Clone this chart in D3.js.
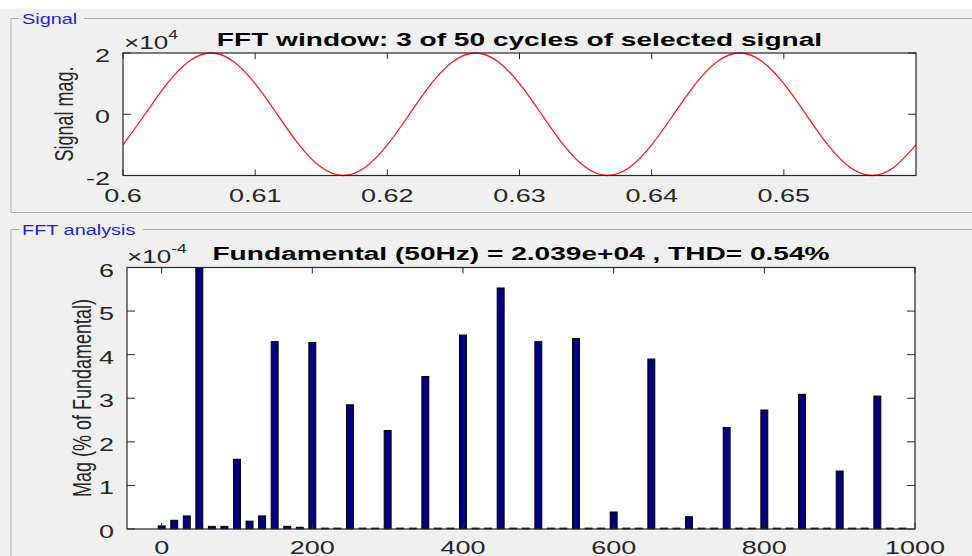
<!DOCTYPE html>
<html>
<head>
<meta charset="utf-8">
<script src="https://cdn.jsdelivr.net/npm/d3@7"></script>
<style>
  html, body { margin: 0; padding: 0; background: #f0f0f0; }
  svg { display: block; }
  text { font-family: "Liberation Sans", Arial, Helvetica, sans-serif; }
</style>
</head>
<body>
<script>
// ---------------- DATA ----------------
const signalTime = [0.6, 0.60167, 0.60333, 0.605, 0.60667, 0.60833, 0.61, 0.61167, 0.61333, 0.615, 0.61667, 0.61833,
  0.62, 0.62167, 0.62333, 0.625, 0.62667, 0.62833, 0.63, 0.63167, 0.63333, 0.635, 0.63667, 0.63833,
  0.64, 0.64167, 0.64333, 0.645, 0.64667, 0.64833, 0.65, 0.65167, 0.65333, 0.655, 0.65667, 0.65833, 0.66];
const signalValue = [-10000, 0, 10000, 17320, 20000, 17320, 10000, 0, -10000, -17320, -20000, -17320,
  -10000, 0, 10000, 17320, 20000, 17320, 10000, 0, -10000, -17320, -20000, -17320,
  -10000, 0, 10000, 17320, 20000, 17320, 10000, 0, -10000, -17320, -20000, -17320, -10000];
const signalXTicks = [0.6, 0.61, 0.62, 0.63, 0.64, 0.65];
const signalYTicks = [-2, 0, 2];           // x 10^4

const fftFreq = [0, 16.67, 33.33, 50, 66.67, 83.33, 100, 116.67, 133.33, 150, 166.67, 183.33,
  200, 216.67, 233.33, 250, 266.67, 283.33, 300, 316.67, 333.33, 350, 366.67, 383.33,
  400, 416.67, 433.33, 450, 466.67, 483.33, 500, 516.67, 533.33, 550, 566.67, 583.33,
  600, 616.67, 633.33, 650, 666.67, 683.33, 700, 716.67, 733.33, 750, 766.67, 783.33,
  800, 816.67, 833.33, 850, 866.67, 883.33, 900, 916.67, 933.33, 950, 966.67, 983.33];
// magnitude in units of 1e-4 % of fundamental (fundamental = 100 % -> off scale)
const fftMag = [0.07, 0.2, 0.3, 1000000, 0.06, 0.06, 1.6, 0.18, 0.3, 4.3, 0.06, 0.04,
  4.28, 0.02, 0.02, 2.85, 0.02, 0.02, 2.26, 0.02, 0.02, 3.5, 0.02, 0.02,
  4.45, 0.02, 0.02, 5.53, 0.02, 0.02, 4.3, 0.02, 0.02, 4.37, 0.02, 0.02,
  0.39, 0.02, 0.02, 3.9, 0.02, 0.02, 0.28, 0.02, 0.02, 2.33, 0.02, 0.02,
  2.73, 0.02, 0.02, 3.09, 0.02, 0.02, 1.33, 0.02, 0.02, 3.05, 0.02, 0.02];
const fftXTicks = [0, 200, 400, 600, 800, 1000];
const fftYTicks = [0, 1, 2, 3, 4, 5, 6];   // x 10^-4

// ---------------- DRAW ----------------
const W = 972, H = 556;
const svg = d3.select("body").append("svg").attr("width", W).attr("height", H);
svg.append("rect").attr("width", W).attr("height", H).attr("fill", "#f0f0f0");
svg.append("rect").attr("width", W).attr("height", 8.5).attr("fill", "#ffffff");

const SX = 1.5;          // horizontal text stretch of the reference
const AX = "#262626";

function txt(g, x, y, s, o = {}) {
  const t = g.append("text")
    .attr("transform", `translate(${x},${y}) scale(${o.sx || SX},1)` + (o.rot ? ` rotate(${o.rot})` : ""))
    .attr("font-size", o.size || 18)
    .attr("font-weight", o.weight || "normal")
    .attr("text-anchor", o.anchor || "middle")
    .attr("fill", o.fill || AX);
  if (Array.isArray(s)) {
    s.forEach(p => {
      const ts = t.append("tspan").text(p.t);
      if (p.size) ts.attr("font-size", p.size);
      if (p.dy) ts.attr("dy", p.dy);
    });
  } else t.text(s);
  return t;
}

// group-box frames
const frameCol = "#a9a9a9";
function groupBox(yTop, yBottom, label, labelEnd) {
  const g = svg.append("g");
  g.append("path").attr("fill", "none").attr("stroke", frameCol).attr("stroke-width", 1)
    .attr("d", `M19,${yTop}H11V${yBottom}` + (yBottom < H ? `H${W}` : ""));
  g.append("path").attr("fill", "none").attr("stroke", frameCol).attr("stroke-width", 1)
    .attr("d", `M${labelEnd},${yTop}H${W}`);
  txt(g, 22, yTop + 5, label, { size: 14, anchor: "start", fill: "#2424d0", sx: 1.42 });
}
groupBox(18.5, 212.5, "Signal", 84);
groupBox(229.5, H + 2, "FFT analysis", 143);

function drawAxesFrame(g, x, y, xTicks, yTicks, xFmt, yFmt, xLabOff) {
  const [xl, xr] = x.range(), [yb, yt] = y.range();
  const tl = 6;
  // ticks
  xTicks.forEach(v => {
    const px = x(v);
    g.append("line").attr("x1", px).attr("x2", px).attr("y1", yb).attr("y2", yb - tl).attr("stroke", AX);
    g.append("line").attr("x1", px).attr("x2", px).attr("y1", yt).attr("y2", yt + tl).attr("stroke", AX);
    txt(g, px, yb + xLabOff, xFmt(v));
  });
  yTicks.forEach(v => {
    const py = y(v);
    g.append("line").attr("x1", xl).attr("x2", xl + 8).attr("y1", py).attr("y2", py).attr("stroke", AX);
    g.append("line").attr("x1", xr).attr("x2", xr - 8).attr("y1", py).attr("y2", py).attr("stroke", AX);
    txt(g, xl - 13, py + 9, yFmt(v), { anchor: "end" });
  });
  g.append("rect").attr("x", xl).attr("y", yt).attr("width", xr - xl).attr("height", yb - yt)
    .attr("fill", "none").attr("stroke", AX).attr("stroke-width", 1.2);
}

// ---- Signal plot ----
{
  const g = svg.append("g");
  const x = d3.scaleLinear().domain([0.6, 0.66]).range([123, 916]);
  const y = d3.scaleLinear().domain([-2e4, 2e4]).range([175.5, 53]);
  g.append("rect").attr("x", 123).attr("y", 53).attr("width", 916 - 123).attr("height", 175.5 - 53).attr("fill", "#fff");
  g.append("clipPath").attr("id", "c1").append("rect").attr("x", 123).attr("y", 52).attr("width", 793).attr("height", 125);
  const line = d3.line().x((d, i) => x(signalTime[i])).y(d => y(d)).curve(d3.curveNatural);
  g.append("path").datum(signalValue).attr("d", line).attr("fill", "none")
    .attr("stroke", "#ff1a1a").attr("stroke-width", 1.3).attr("clip-path", "url(#c1)");
  const yS = d3.scaleLinear().domain([-2, 2]).range(y.range());
  drawAxesFrame(g, x, yS, signalXTicks, signalYTicks, d3.format(".2~f"), d => d3.format("d")(d).replace("−", "-"), 26.5);
  txt(g, 519.5, 46, "FFT window: 3 of 50 cycles of selected signal", { weight: "bold", fill: "#000", sx: 1.56 });
  txt(g, 124, 49, [{ t: "×10" }, { t: "4", size: 12, dy: -10 }], { anchor: "start", sx: 1.45 });
  txt(g, 73, 114, "Signal mag.", { rot: -90, sx: 1.4 });
}

// ---- FFT plot ----
{
  const g = svg.append("g");
  const x = d3.scaleLinear().domain([-46, 1000]).range([127, 915]);
  const y = d3.scaleLinear().domain([0, 6]).range([529, 267.5]);
  g.append("rect").attr("x", 127).attr("y", 267.5).attr("width", 915 - 127).attr("height", 529 - 267.5).attr("fill", "#fff");
  g.append("clipPath").attr("id", "c2").append("rect").attr("x", 127).attr("y", 267.5).attr("width", 788).attr("height", 262);
  const bw = x(9.2) - x(0);
  g.append("g").attr("clip-path", "url(#c2)").selectAll("rect").data(fftMag).join("rect")
    .attr("x", (d, i) => x(fftFreq[i]) - bw / 2)
    .attr("width", bw)
    .attr("y", d => y(Math.min(d, 7)))
    .attr("height", d => y(0) - y(Math.min(d, 7)))
    .attr("fill", "#000080").attr("stroke", "#000").attr("stroke-width", 1);
  drawAxesFrame(g, x, y, fftXTicks, fftYTicks, d3.format("d"), d3.format("d"), 24.5);
  txt(g, 521, 260, "Fundamental (50Hz) = 2.039e+04 , THD= 0.54%", { weight: "bold", fill: "#000", sx: 1.56 });
  txt(g, 127, 263, [{ t: "×10" }, { t: "-4", size: 12, dy: -10 }], { anchor: "start", sx: 1.45 });
  txt(g, 91, 398, "Mag (% of Fundamental)", { rot: -90, sx: 1.4 });
}
</script>
</body>
</html>
